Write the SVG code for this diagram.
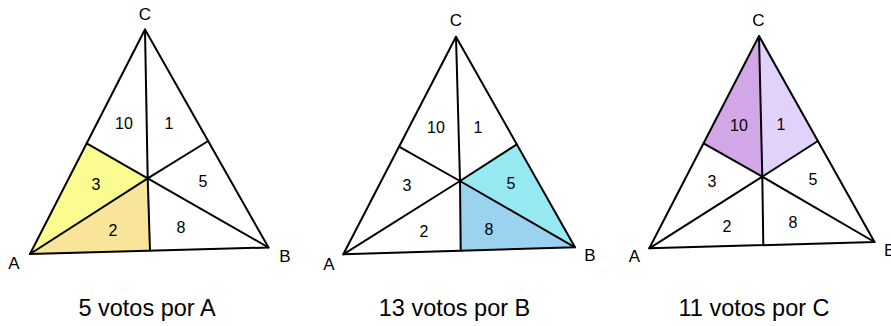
<svg xmlns="http://www.w3.org/2000/svg" width="891" height="326" viewBox="0 0 891 326">
<style>
  .edge { stroke: #000; stroke-width: 2; fill: none; stroke-linejoin: round; stroke-linecap: round; }
  .num { font-family: "Liberation Sans", Arial, sans-serif; font-size: 16px; fill: #000; text-anchor: middle; }
  .vtx { font-family: "Liberation Sans", Arial, sans-serif; font-size: 17px; fill: #000; text-anchor: middle; }
  .cap { font-family: "Liberation Sans", Arial, sans-serif; font-size: 23.5px; fill: #000; text-anchor: middle; }
</style>
<rect width="891" height="326" fill="#fff"/>

<g id="triangle-A">
  <polygon points="30,254 86.7,143.3 147.7,178.3" fill="#fafc8f"/>
  <polygon points="30,254 147.7,178.3 150,250.7" fill="#f8e59a"/>
  <g class="edge">
    <polygon points="145,29.5 30,254 268.5,247.5"/>
    <path d="M147.7,178.3 L145,29.5 M147.7,178.3 L30,254 M147.7,178.3 L268.5,247.5 M147.7,178.3 L150,250.7 M147.7,178.3 L86.7,143.3 M147.7,178.3 L208.2,141"/>
  </g>
  <text class="num" x="124" y="129">10</text>
  <text class="num" x="169" y="129">1</text>
  <text class="num" x="96" y="190">3</text>
  <text class="num" x="203" y="187">5</text>
  <text class="num" x="113" y="236">2</text>
  <text class="num" x="181" y="233">8</text>
  <text class="vtx" x="145" y="20">C</text>
  <text class="vtx" x="14" y="269">A</text>
  <text class="vtx" x="285" y="262">B</text>
  <text class="cap" x="147" y="316">5 votos por A</text>
</g>

<g id="triangle-B">
  <polygon points="460,181 516.8,144.3 575,247.3" fill="#97e9f1"/>
  <polygon points="460,181 575,247.3 460.7,250.7" fill="#9bd2ef"/>
  <g class="edge">
    <polygon points="456,36.7 343.3,254.3 575,247.3"/>
    <path d="M460,181 L456,36.7 M460,181 L343.3,254.3 M460,181 L575,247.3 M460,181 L460.7,250.7 M460,181 L399,146.7 M460,181 L516.8,144.3"/>
  </g>
  <text class="num" x="436" y="133">10</text>
  <text class="num" x="478" y="133">1</text>
  <text class="num" x="407" y="191">3</text>
  <text class="num" x="511" y="189">5</text>
  <text class="num" x="424" y="237">2</text>
  <text class="num" x="489" y="235">8</text>
  <text class="vtx" x="456" y="26">C</text>
  <text class="vtx" x="329" y="270">A</text>
  <text class="vtx" x="590" y="261">B</text>
  <text class="cap" x="454.5" y="316">13 votos por B</text>
</g>

<g id="triangle-C">
  <polygon points="759,36 703.6,143.3 762.3,176.7" fill="#d1a7e8"/>
  <polygon points="759,36 762.3,176.7 817.9,141" fill="#e2d2fb"/>
  <g class="edge">
    <polygon points="759,36 649.3,248.3 874.5,242"/>
    <path d="M762.3,176.7 L759,36 M762.3,176.7 L649.3,248.3 M762.3,176.7 L874.5,242 M762.3,176.7 L763.3,245.1 M762.3,176.7 L703.6,143.3 M762.3,176.7 L817.9,141"/>
  </g>
  <text class="num" x="739" y="131">10</text>
  <text class="num" x="781" y="130">1</text>
  <text class="num" x="712" y="187">3</text>
  <text class="num" x="813" y="185">5</text>
  <text class="num" x="727" y="232">2</text>
  <text class="num" x="793" y="228">8</text>
  <text class="vtx" x="758.5" y="26">C</text>
  <text class="vtx" x="634.5" y="262">A</text>
  <text class="vtx" x="884" y="256" style="text-anchor:start">B</text>
  <text class="cap" x="754" y="316">11 votos por C</text>
</g>
</svg>
